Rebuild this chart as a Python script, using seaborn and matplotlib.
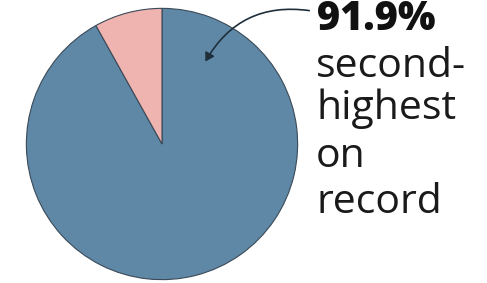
import matplotlib
matplotlib.use("Agg")
import matplotlib.pyplot as plt
import seaborn as sns

# data
labels = ["record", "rest"]
shares = [91.9, 8.1]
colors = ["#5f88a6", "#efb3b0"]
headline = "91.9%"
caption = ["second-", "highest", "on", "record"]

sns.set_theme(style="white")
plt.rcParams["font.family"] = ["Open Sans", "DejaVu Sans"]

W, H = 487, 283
fig = plt.figure(figsize=(W / 100, H / 100), dpi=100)
fig.patch.set_facecolor("white")

def fx(px):
    return px / W

def fy(py):
    return 1 - py / H

# pie axes (square, center ~ (162,144), radius ~137)
ax = fig.add_axes([fx(25), fy(281), 274 / W, 274 / H])
ax.pie(shares, colors=colors, startangle=90, counterclock=False,
       wedgeprops=dict(edgecolor="#3a4a58", linewidth=0.8))
ax.set_xlim(-1.01, 1.01)
ax.set_ylim(-1.01, 1.01)
ax.set_aspect("equal")
ax.axis("off")

fig.text(fx(317), fy(30), headline, fontsize=28.5, fontweight="heavy",
         color="#111111", ha="left", va="baseline")
baselines = [77, 119, 167, 213]
for line, b in zip(caption, baselines):
    fig.text(fx(316), fy(b), line, fontsize=29.5,
             color="#1a1a1a", ha="left", va="baseline")

fig.add_artist(plt.matplotlib.patches.FancyArrowPatch(
    (fx(312), fy(11)), (fx(204), fy(64)), transform=fig.transFigure,
    connectionstyle="arc3,rad=0.35", arrowstyle="-|>,head_length=5,head_width=3",
    color="#1f2f3c", linewidth=1.2))

fig.savefig("out.png", dpi=100)
